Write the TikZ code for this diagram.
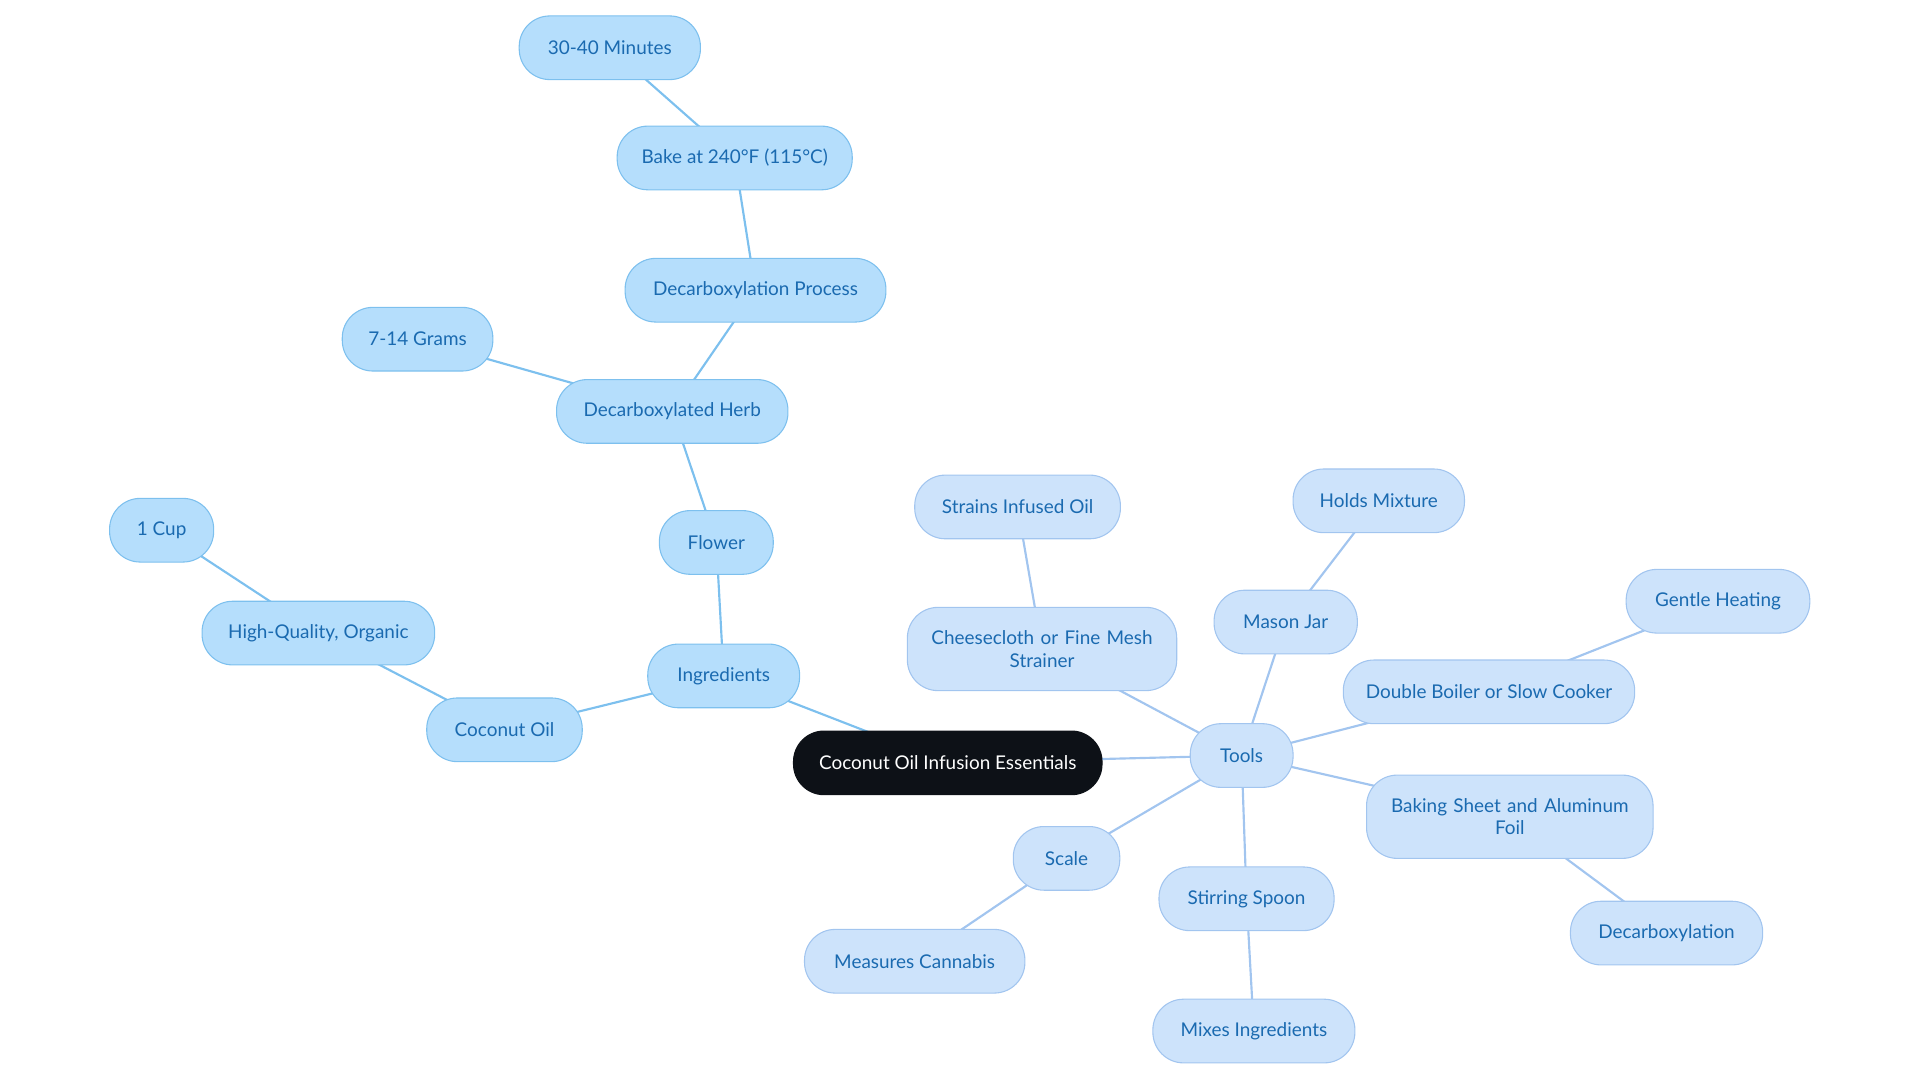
\documentclass[tikz,border=0pt]{standalone}
\usepackage{fontspec}
\setmainfont{Lato}
\usetikzlibrary{backgrounds}
\definecolor{ingfill}{HTML}{B5DEFC}
\definecolor{ingline}{HTML}{7DC0EE}
\definecolor{toolfill}{HTML}{CDE3FB}
\definecolor{toolline}{HTML}{A2C5EF}
\definecolor{leaftext}{HTML}{1A6AB0}
\definecolor{rootfill}{HTML}{0D1117}
\tikzset{
  box/.style={rounded corners=0.5cm, minimum height=1.04cm, align=center,
    font=\fontsize{8.8pt}{10.5pt}\selectfont, text=leaftext, line width=0.5pt},
  ing/.style={box, fill=ingfill, draw=ingline},
  tool/.style={box, fill=toolfill, draw=toolline},
  root/.style={box, fill=rootfill, draw=rootfill, text=white},
  ingedge/.style={draw=ingline, line width=1pt},
  tooledge/.style={draw=toolline, line width=1pt},
}
\begin{document}
\begin{tikzpicture}[x=0.02cm, y=-0.02cm]
\useasboundingbox (0,0) rectangle (1568,884.5);
% centre
\node[root, minimum width=5.04cm] (root) at (774,623) {Coconut Oil Infusion Essentials};
% ingredients branch
\node[ing, minimum width=2.48cm] (ingr) at (591,552) {Ingredients};
\node[ing, minimum width=1.86cm] (flower) at (585,443) {Flower};
\node[ing, minimum width=3.78cm] (herb) at (549,336) {Decarboxylated Herb};
\node[ing, minimum width=2.46cm] (grams) at (341,277) {7-14 Grams};
\node[ing, minimum width=4.26cm] (process) at (617,237) {Decarboxylation Process};
\node[ing, minimum width=3.84cm] (bake) at (600,129) {Bake at 240°F (115°C)};
\node[ing, minimum width=2.96cm] (minutes) at (498,39) {30-40 Minutes};
\node[ing, minimum width=2.54cm] (oil) at (412,596) {Coconut Oil};
\node[ing, minimum width=3.80cm] (organic) at (260,517) {High-Quality, Organic};
\node[ing, minimum width=1.70cm] (cup) at (132,433) {1 Cup};
% tools branch
\node[tool, minimum width=1.68cm] (tools) at (1014,617) {Tools};
\node[tool, minimum width=4.40cm, minimum height=1.36cm, text width=3.9cm] (strainer) at (851,530) {Cheesecloth or Fine Mesh\\Strainer};
\node[tool, minimum width=3.36cm] (strains) at (831,414) {Strains Infused Oil};
\node[tool, minimum width=2.34cm] (jar) at (1050,508) {Mason Jar};
\node[tool, minimum width=2.80cm] (holds) at (1126,409) {Holds Mixture};
\node[tool, minimum width=4.76cm] (boiler) at (1216,565) {Double Boiler or Slow Cooker};
\node[tool, minimum width=3.00cm] (gentle) at (1403,491) {Gentle Heating};
\node[tool, minimum width=4.68cm, minimum height=1.36cm, text width=4.1cm] (sheet) at (1233,667) {Baking Sheet and Aluminum\\Foil};
\node[tool, minimum width=3.14cm] (decarb) at (1361,762) {Decarboxylation};
\node[tool, minimum width=1.74cm] (scale) at (871,701) {Scale};
\node[tool, minimum width=3.60cm] (measures) at (747,785) {Measures Cannabis};
\node[tool, minimum width=2.86cm] (spoon) at (1018,734) {Stirring Spoon};
\node[tool, minimum width=3.30cm] (mixes) at (1024,842) {Mixes Ingredients};
\begin{scope}[on background layer]
\draw[ingedge] (root.center) -- (ingr.center) (ingr.center) -- (flower.center)
  (flower.center) -- (herb.center) (herb.center) -- (grams.center)
  (herb.center) -- (process.center) (process.center) -- (bake.center)
  (bake.center) -- (minutes.center) (ingr.center) -- (oil.center)
  (oil.center) -- (organic.center) (organic.center) -- (cup.center);
\draw[tooledge] (root.center) -- (tools.center) (tools.center) -- (strainer.center)
  (strainer.center) -- (strains.center) (tools.center) -- (jar.center)
  (jar.center) -- (holds.center) (tools.center) -- (boiler.center)
  (boiler.center) -- (gentle.center) (tools.center) -- (sheet.center)
  (sheet.center) -- (decarb.center) (tools.center) -- (scale.center)
  (scale.center) -- (measures.center) (tools.center) -- (spoon.center)
  (spoon.center) -- (mixes.center);
\end{scope}
\end{tikzpicture}
\end{document}
